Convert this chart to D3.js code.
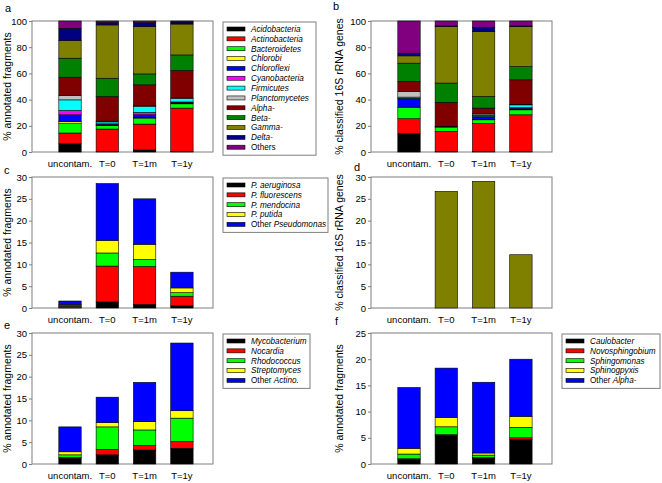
<!DOCTYPE html>
<html>
<head>
<meta charset="utf-8">
<script src="https://cdn.jsdelivr.net/npm/d3@7"></script>
<style>
  body { margin: 0; background: #fff; }
  svg { font-family: Arial, 'Liberation Sans', sans-serif; }
</style>
</head>
<body>
<svg id="chart" width="662" height="483"></svg>
<script>
// categorias comunes a los 6 paneles
var samples = ['uncontam.', 'T=0', 'T=1m', 'T=1y']

// panel a y b: phyla / clases de proteobacteria
var phylaNames = ['Acidobacteria', 'Actinobacteria', 'Bacteroidetes', 'Chlorobi', 'Chloroflexi',
  'Cyanobacteria', 'Firmicutes', 'Planctomycetes', 'Alpha-', 'Beta-', 'Gamma-', 'Delta-', 'Others']
var phylaColors = ['#000000', '#ff0000', '#00ff00', '#ffff00', '#0000ff', '#ff00ff', '#00ffff',
  '#c0c0c0', '#800000', '#008000', '#808000', '#000080', '#800080']

// filas = grupos (orden de la leyenda), columnas = samples
var fragPhyla = [
  [6.3, 0.3, 1.5, 0.3],
  [8.2, 17.2, 19.8, 33.2],
  [7.1, 2.6, 4.6, 3.3],
  [1.5, 0.3, 0.5, 0.3],
  [5.3, 0.8, 2.0, 0.8],
  [3.3, 0.3, 1.8, 0.3],
  [8.1, 1.5, 4.6, 2.5],
  [3.3, 0.6, 0.6, 0.5],
  [14.0, 18.8, 15.9, 21.0],
  [14.5, 13.9, 8.3, 11.9],
  [13.4, 40.7, 36.1, 23.6],
  [9.4, 1.8, 3.0, 1.5],
  [5.6, 1.2, 1.3, 0.8]
]
var rrnaPhyla = [
  [14.0, 0.5, 0.3, 0.3],
  [11.4, 15.2, 21.3, 28.1],
  [8.6, 3.3, 3.0, 3.8],
  [0.3, 0.3, 0.3, 0.3],
  [6.3, 0, 1.8, 1.0],
  [0.3, 0, 0.3, 0.3],
  [1.0, 0.3, 1.0, 2.2],
  [4.3, 0, 1.0, 0.3],
  [7.6, 18.3, 4.5, 18.8],
  [14.0, 14.7, 8.9, 10.1],
  [5.6, 43.2, 49.5, 30.5],
  [2.0, 0.5, 3.3, 0.5],
  [24.6, 3.7, 4.8, 3.8]
]

// panel c: Pseudomonas
var pseudoNames = ['P. aeruginosa', 'P. fluorescens', 'P. mendocina', 'P. putida', 'Other Pseudomonas']
var pseudoVals = [
  [0.05, 1.4, 0.8, 0.5],
  [0.35, 8.2, 8.7, 2.2],
  [0.2, 3.0, 1.6, 0.8],
  [0.2, 2.9, 3.5, 1.1],
  [0.8, 13.0, 10.4, 3.6]
]

// panel d: Gamma- en genes 16S
var gammaRrna = [0, 26.7, 29.0, 12.2]

// panel e: Actinobacteria
var actinoNames = ['Mycobacterium', 'Nocardia', 'Rhodococcus', 'Streptomyces', 'Other Actino.']
var actinoVals = [
  [1.3, 2.1, 3.2, 3.6],
  [0.2, 1.2, 1.0, 1.5],
  [0.6, 5.2, 3.6, 5.4],
  [0.7, 1.0, 1.9, 1.7],
  [5.7, 5.8, 9.0, 15.5]
]

// panel f: Alphaproteobacteria
var alphaNames = ['Caulobacter', 'Novosphingobium', 'Sphingomonas', 'Sphinogpyxis', 'Other Alpha-']
var alphaVals = [
  [0.9, 5.5, 1.1, 4.7],
  [0.1, 0.1, 0.1, 0.3],
  [0.9, 1.5, 0.5, 2.0],
  [1.1, 1.8, 0.4, 2.1],
  [11.6, 9.4, 13.5, 10.9]
]

var genusColors = ['#000000', '#ff0000', '#00ff00', '#ffff00', '#0000ff']

// ticks del eje y
var ticksPct = [0, 20, 40, 60, 80, 100]
var ticks30 = [0, 5, 10, 15, 20, 25, 30]
var ticks25 = [0, 5, 10, 15, 20, 25]

var svg = d3.select('#chart')
var plotW = 181, plotH = 131

var panels = [
  { letter: 'a', lx: 5, ly: 12, left: 32, top: 21, titleX: 7, yMax: 100, ticks: ticksPct,
    title: '% annotated fragments', names: phylaNames, colors: phylaColors, values: fragPhyla,
    legend: { x: 223, y: 22, w: 93 } },
  { letter: 'b', lx: 333, ly: 10, left: 371, top: 21, titleX: 339, yMax: 100, ticks: ticksPct,
    title: '% classified 16S rRNA genes', names: phylaNames, colors: phylaColors, values: rrnaPhyla },
  { letter: 'c', lx: 4, ly: 174, left: 32, top: 177, titleX: 7, yMax: 30, ticks: ticks30,
    title: '% annotated fragments', names: pseudoNames, colors: genusColors, values: pseudoVals,
    legend: { x: 223, y: 178, w: 105 } },
  { letter: 'd', lx: 354, ly: 171, left: 371, top: 177, titleX: 339, yMax: 30, ticks: ticks30,
    title: '% classified 16S rRNA genes', names: ['Gamma-'], colors: ['#808000'], values: [gammaRrna] },
  { letter: 'e', lx: 4, ly: 329, left: 32, top: 333, titleX: 7, yMax: 30, ticks: ticks30,
    title: '% annotated fragments', names: actinoNames, colors: genusColors, values: actinoVals,
    legend: { x: 223, y: 334, w: 87 } },
  { letter: 'f', lx: 335, ly: 325, left: 371, top: 333, titleX: 339, yMax: 25, ticks: ticks25,
    title: '% annotated fragments', names: alphaNames, colors: genusColors, values: alphaVals,
    legend: { x: 562, y: 334, w: 98 } }
]

panels.forEach(drawPanel)

function drawPanel(p) {
  var g = svg.append('g')

  var x = d3.scaleBand()
    .domain(samples)
    .range([p.left, p.left + plotW])
    .paddingInner(0.4)
    .paddingOuter(0.626)
    .align(0.574)

  var y = d3.scaleLinear()
    .domain([0, p.yMax])
    .range([p.top + plotH, p.top])

  // tabla para d3.stack
  var keys = p.names.map((n, i) => i)
  var rows = samples.map((s, j) => {
    var r = { sample: s }
    keys.forEach(k => { r[k] = p.values[k][j] })
    return r
  })
  var series = d3.stack().keys(keys)(rows)

  // marco del area de grafica
  g.append('rect')
    .attr('x', p.left).attr('y', p.top)
    .attr('width', plotW).attr('height', plotH)
    .attr('fill', 'none')
    .attr('stroke', '#7f7f7f')
    .attr('stroke-width', 1)

  g.selectAll('g.serie')
    .data(series)
    .enter().append('g')
      .attr('class', 'serie')
      .attr('fill', d => p.colors[d.key])
    .selectAll('rect')
    .data(d => d.filter(v => v[1] - v[0] > 0))
    .enter().append('rect')
      .attr('x', d => x(d.data.sample))
      .attr('width', x.bandwidth())
      .attr('y', d => y(d[1]))
      .attr('height', d => y(d[0]) - y(d[1]))
      .attr('stroke', '#000')
      .attr('stroke-width', 0.6)

  var yAxis = g.append('g')
    .attr('transform', `translate(${p.left},0)`)
    .call(d3.axisLeft(y).tickValues(p.ticks).tickSize(3).tickSizeOuter(0).tickPadding(2))
  yAxis.select('.domain').remove()
  yAxis.selectAll('line').attr('stroke', '#7f7f7f')
  yAxis.selectAll('text').attr('font-size', '9.5px').attr('fill', '#000')
    .attr('font-family', 'Arial, Liberation Sans, sans-serif')

  var xAxis = g.append('g')
    .attr('transform', `translate(0,${p.top + plotH})`)
    .call(d3.axisBottom(x).tickSize(0).tickPadding(8.5))
  xAxis.select('.domain').remove()
  xAxis.selectAll('text').attr('font-size', '9.5px').attr('fill', '#000')
    .attr('font-family', 'Arial, Liberation Sans, sans-serif')

  // titulo del eje y
  g.append('text')
    .attr('transform', `translate(${p.titleX},${p.top + plotH / 2}) rotate(-90)`)
    .attr('text-anchor', 'middle')
    .attr('dy', '0.35em')
    .attr('font-size', '10.5px')
    .text(p.title)

  g.append('text')
    .attr('x', p.lx).attr('y', p.ly)
    .attr('font-size', '11px')
    .text(p.letter)

  if (p.legend) drawLegend(p)
}

function drawLegend(p) {
  var L = p.legend
  var step = 9.85
  var n = p.names.length
  var lg = svg.append('g')

  lg.append('rect')
    .attr('x', L.x).attr('y', L.y)
    .attr('width', L.w).attr('height', 7 + (n - 1) * step + 8)
    .attr('fill', '#fff')
    .attr('stroke', '#7f7f7f')

  var items = lg.selectAll('g.item')
    .data(p.names)
    .enter().append('g')
      .attr('class', 'item')
      .attr('transform', (d, i) => `translate(${L.x + 4},${L.y + 7 + i * step})`)

  items.append('rect')
    .attr('x', 0).attr('y', -2)
    .attr('width', 18).attr('height', 4)
    .attr('fill', (d, i) => p.colors[i])
    .attr('stroke', '#000')
    .attr('stroke-width', 0.6)

  items.append('text')
    .attr('x', 24)
    .attr('dy', '0.35em')
    .attr('font-size', '8.2px')
    .each(function(d) {
      var t = d3.select(this)
      if (d === 'Others') t.text(d)
      else if (d.indexOf('Other ') === 0) {
        t.append('tspan').text('Other ')
        t.append('tspan').attr('font-style', 'italic').text(d.slice(6))
      } else t.attr('font-style', 'italic').text(d)
    })
}
</script>
</body>
</html>
